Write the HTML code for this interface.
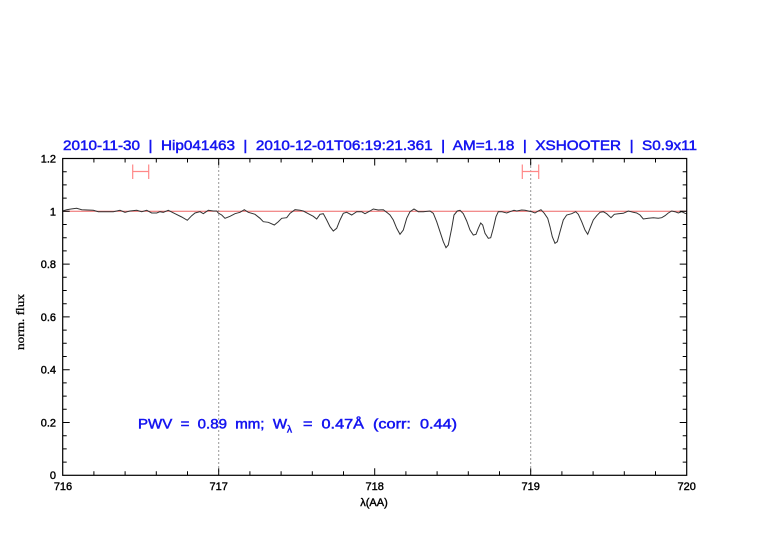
<!DOCTYPE html>
<html><head><meta charset="utf-8"><style>
html,body{margin:0;padding:0;background:#fff;}
svg{display:block;}
text{font-family:"Liberation Sans",sans-serif;white-space:pre;}
</style></head><body>
<svg width="782" height="542" viewBox="0 0 782 542" xmlns="http://www.w3.org/2000/svg" xml:space="preserve">
<rect width="782" height="542" fill="#fff"/>
<!-- title -->
<text x="63" y="150" font-size="14" fill="#1515f0" stroke="#1515f0" stroke-width="0.5" textLength="634" lengthAdjust="spacingAndGlyphs">2010-11-30  |  Hip041463  |  2010-12-01T06:19:21.361  |  AM=1.18  |  XSHOOTER  |  S0.9x11</text>
<!-- reference line -->
<line x1="62.7" y1="211.3" x2="686.7" y2="211.3" stroke="#ee6666" stroke-width="1"/>
<!-- dotted verticals -->
<line x1="218.7" y1="158.5" x2="218.7" y2="475.3" stroke="#333" stroke-width="1" stroke-dasharray="1,3"/>
<line x1="530.7" y1="158.5" x2="530.7" y2="475.3" stroke="#333" stroke-width="1" stroke-dasharray="1,3"/>
<!-- red error-bar markers -->
<g stroke="#ff8888" stroke-width="1.2" fill="none">
<path d="M132.7 164.5 V179 M148.7 164.5 V179 M132.7 171.5 H148.7"/>
<path d="M522.3 164.5 V179 M538.7 164.5 V179 M522.3 171.5 H538.7"/>
</g>
<!-- spectrum -->
<polyline fill="none" stroke="#333" stroke-width="1" points="62.7,211 66.7,209.7 71,209 76.7,208.3 81.7,209.7 93.3,210.3 98.3,211.7 113.3,211.7 120,210.3 125,212.3 130,211 136.7,210.3 141.7,211.7 146.7,210.3 151.7,213 156.7,213 160,211.7 163.3,212.3 168.3,210.3 175,213.7 181.7,217 187.3,220.3 191.7,215.7 195,213 200,211.7 203.3,213.7 208.3,210.3 213.3,211 216.7,211 218.3,213 221.7,215 225,218.3 230,216.3 235,213.7 240,212.3 244.3,209.7 248.3,212.3 255,214.3 260,218.3 263.3,221.7 268.3,222.3 274.3,225 278.3,221.7 281.7,218.3 286.7,217.7 290,213.3 295,209.7 300,210.3 303.3,211 308.3,213.7 313.3,216.3 316.7,219 320,214.3 323.3,213.7 326.7,220 330,226.7 333.3,231 336.7,228.3 340,220 343.3,213.3 346.7,212.3 351.7,215 356.7,211.7 361.7,211.7 365,213.7 370,211 373.3,209 378.3,210 383.3,209.7 386.7,212.3 390,215 393.3,220 396.7,228.3 400,234.3 403.3,230 406.7,218.3 410,211.7 414,209 418.3,211.7 423.3,211.7 430,211 433.3,213.3 436.7,221.7 440,231.7 443.3,241.7 446,247.7 448.3,245 451.7,228.3 454,215 457.3,211 460,210.3 463.3,213.7 466.7,221 470,230 473.3,235 476,234.3 478.3,228.3 480.7,223 482.7,225 485,233.3 488.3,238.3 490.7,237.7 493.3,228.3 496,216.7 498.3,211.7 501.7,211.7 506.7,213 510,211.7 514,210.3 516.7,211 521.7,210 525,210.3 528.3,211 531.7,211.7 535,213 538.3,211 541,209.7 544.3,213.3 547.7,218.3 550,226.7 552.3,236.7 555,243.3 557.3,241.7 560,231.7 563.3,220 566.7,215 571.7,213.7 575.7,211.7 578.3,214.3 581.7,221.7 585,230 587.7,234.3 590,228.3 593.3,220 596.7,215.7 600,212.3 603.3,211.7 606.7,213.7 611,217.7 614.3,214.3 618.3,213.7 623.3,213.3 628.3,211 633.3,212.3 636.7,213 640,215 643.3,219 648.3,218.3 653.3,217.7 658.3,218.3 661.7,217.7 665,215.7 668.3,213 671.7,211 675,211.7 678.3,213 681.7,211.7 685,213.3 686.7,213.7"/>
<!-- frame -->
<rect x="62.7" y="158.5" width="624" height="316.8" fill="none" stroke="#000" stroke-width="1.2"/>
<!-- ticks -->
<path stroke="#000" stroke-width="1" fill="none" d="
M218.7 475.3 v-7 M374.7 475.3 v-7 M530.7 475.3 v-7
M93.9 475.3 v-4 M125.1 475.3 v-4 M156.3 475.3 v-4 M187.5 475.3 v-4 M249.9 475.3 v-4 M281.1 475.3 v-4 M312.3 475.3 v-4 M343.5 475.3 v-4 M405.9 475.3 v-4 M437.1 475.3 v-4 M468.3 475.3 v-4 M499.5 475.3 v-4 M561.9 475.3 v-4 M593.1 475.3 v-4 M624.3 475.3 v-4 M655.5 475.3 v-4
M218.7 158.5 v7 M374.7 158.5 v7 M530.7 158.5 v7
M93.9 158.5 v4 M125.1 158.5 v4 M156.3 158.5 v4 M187.5 158.5 v4 M249.9 158.5 v4 M281.1 158.5 v4 M312.3 158.5 v4 M343.5 158.5 v4 M405.9 158.5 v4 M437.1 158.5 v4 M468.3 158.5 v4 M499.5 158.5 v4 M561.9 158.5 v4 M593.1 158.5 v4 M624.3 158.5 v4 M655.5 158.5 v4
M62.7 422.5 h7 M62.7 369.7 h7 M62.7 316.9 h7 M62.7 264.1 h7 M62.7 211.3 h7
M62.7 462.1 h4 M62.7 448.9 h4 M62.7 435.7 h4 M62.7 409.3 h4 M62.7 396.1 h4 M62.7 382.9 h4 M62.7 356.5 h4 M62.7 343.3 h4 M62.7 330.1 h4 M62.7 303.7 h4 M62.7 290.5 h4 M62.7 277.3 h4 M62.7 250.9 h4 M62.7 237.7 h4 M62.7 224.5 h4 M62.7 198.1 h4 M62.7 184.9 h4 M62.7 171.7 h4
M686.7 422.5 h-7 M686.7 369.7 h-7 M686.7 316.9 h-7 M686.7 264.1 h-7 M686.7 211.3 h-7
M686.7 462.1 h-4 M686.7 448.9 h-4 M686.7 435.7 h-4 M686.7 409.3 h-4 M686.7 396.1 h-4 M686.7 382.9 h-4 M686.7 356.5 h-4 M686.7 343.3 h-4 M686.7 330.1 h-4 M686.7 303.7 h-4 M686.7 290.5 h-4 M686.7 277.3 h-4 M686.7 250.9 h-4 M686.7 237.7 h-4 M686.7 224.5 h-4 M686.7 198.1 h-4 M686.7 184.9 h-4 M686.7 171.7 h-4
"/>
<!-- y tick labels -->
<g font-size="11" fill="#000" stroke="#000" stroke-width="0.4" text-anchor="end">
<text x="56" y="479">0</text>
<text x="56" y="426.5">0.2</text>
<text x="56" y="373.7">0.4</text>
<text x="56" y="320.9">0.6</text>
<text x="56" y="268.1">0.8</text>
<text x="56" y="215.3">1</text>
<text x="56" y="162.5">1.2</text>
</g>
<!-- x tick labels -->
<g font-size="11" fill="#000" stroke="#000" stroke-width="0.4" text-anchor="middle">
<text x="63" y="490">716</text>
<text x="218.7" y="490">717</text>
<text x="374.7" y="490">718</text>
<text x="530.7" y="490">719</text>
<text x="686.7" y="490">720</text>
</g>
<!-- axis labels -->
<text x="374" y="506" font-size="11" fill="#000" stroke="#000" stroke-width="0.4" text-anchor="middle">λ(AA)</text>
<text transform="translate(24,322) rotate(-90)" font-size="12" fill="#000" stroke="#000" stroke-width="0.3" text-anchor="middle" style="font-family:'Liberation Serif',serif" textLength="56" lengthAdjust="spacingAndGlyphs">norm. flux</text>
<!-- annotation -->
<g font-size="14" fill="#1515f0" stroke="#1515f0" stroke-width="0.5">
<text x="138" y="428.3" textLength="149" lengthAdjust="spacingAndGlyphs">PWV  =  0.89  mm;  W</text>
<text x="287" y="432.5" font-size="10">λ</text>
<text x="303" y="428.3" textLength="154" lengthAdjust="spacingAndGlyphs">=  0.47Å  (corr:  0.44)</text>
</g>
</svg>
</body></html>
